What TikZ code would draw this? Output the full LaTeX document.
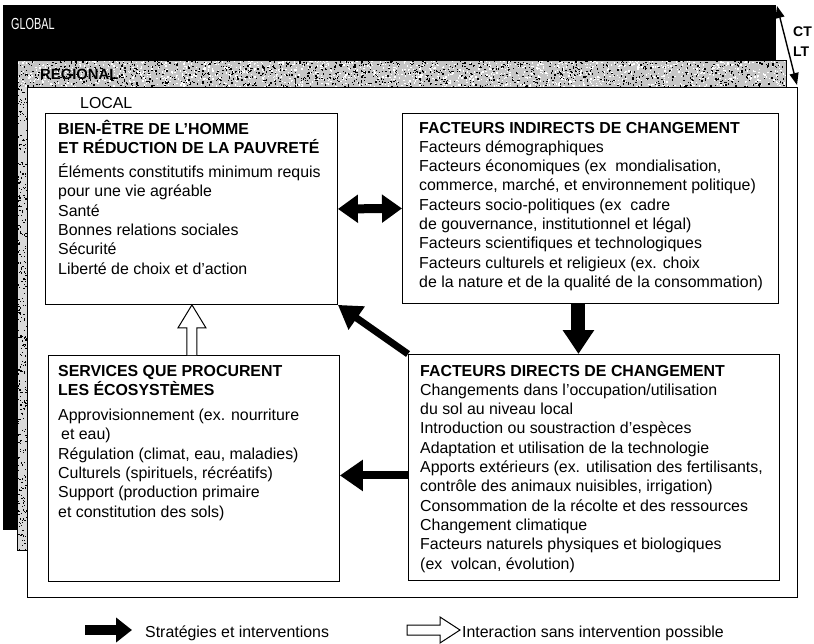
\documentclass[tikz,border=0pt]{standalone}
\usepackage{fontspec}
\setmainfont{Liberation Sans}
\usetikzlibrary{arrows.meta,calc}
\newcommand\bodyfs{\fontsize{15.9}{19.3}\selectfont}
\begin{document}
\begin{tikzpicture}[x=1pt,y=-1pt,
  box/.style={draw, line width=0.9pt, fill=white, inner sep=0pt, anchor=north west},
  txt/.style={anchor=base west, inner sep=0pt, font=\bodyfs},
  lbl/.style={anchor=base west, inner sep=0pt},
  openarrow/.style={draw, fill=white, line width=1pt, line join=miter}]
\useasboundingbox (0,0) rectangle (814,643);
% GLOBAL layer
\fill[black] (3,5) rectangle (776,530);
\node[lbl, text=white, font=\fontsize{16}{18}\selectfont] (glob) at (11,29) {\scalebox{0.68}[1]{GLOBAL}};
% REGIONAL layer
\fill[white] (17,60) rectangle (786,550);
\fill[gray!45] (17,60) rectangle (786,87);
\fill[gray!30] (17,87) rectangle (27,550);
\pgfmathsetseed{7}
\foreach \i in {1,...,1400}{
  \pgfmathsetmacro\xx{17+768*rnd}
  \pgfmathsetmacro\yy{60+26*rnd}
  \fill[black] (\xx,\yy) rectangle ++(1.3,1.3);
}
\foreach \i in {1,...,1400}{
  \pgfmathsetmacro\xx{17+768*rnd}
  \pgfmathsetmacro\yy{60+26*rnd}
  \fill[white] (\xx,\yy) rectangle ++(1.3,1.3);
}
\foreach \i in {1,...,350}{
  \pgfmathsetmacro\xx{17+9*rnd}
  \pgfmathsetmacro\yy{87+462*rnd}
  \fill[black] (\xx,\yy) rectangle ++(1.2,1.2);
}
\draw[line width=0.6pt] (17,60) rectangle (786,550);
\node[lbl, font=\bfseries\fontsize{14.8}{17}\selectfont] (reg) at (40,79) {REGIONAL};
% LOCAL layer
\draw[line width=0.9pt, fill=white] (27,87) rectangle (797,597);
\node[lbl, font=\bodyfs] (loc) at (80,108) {LOCAL};
% CT / LT
\coordinate (ctA) at (777,6);
\coordinate (ctB) at (797,85);
\draw[line width=1.4pt, {Triangle[width=9pt,length=12pt]}-{Triangle[width=9pt,length=12pt]}] (ctA) -- (ctB);
\node[lbl, font=\bfseries\fontsize{14}{16}\selectfont] (ct) at (793,36) {CT};
\node[lbl, font=\bfseries\fontsize{14}{16}\selectfont] (lt) at (793,56) {LT};
% boxes
\node[box, minimum width=292pt, minimum height=191pt] (b1) at (45,113) {};
\node[box, minimum width=376pt, minimum height=190pt] (b2) at (402,113) {};
\node[box, minimum width=291pt, minimum height=226pt] (b3) at (48,355) {};
\node[box, minimum width=371pt, minimum height=226pt] (b4) at (408,354) {};
% texts
\node[txt] (t1) at (58,134) {\parbox[t]{300pt}{\raggedright
\textbf{BIEN-ÊTRE DE L'HOMME}\\
\textbf{ET RÉDUCTION DE LA PAUVRETÉ}\\[5pt]
Éléments constitutifs minimum requis\\
pour une vie agréable\\
Santé\\
Bonnes relations sociales\\
Sécurité\\
Liberté de choix et d'action}};
\node[txt] (t2) at (419,133) {\parbox[t]{380pt}{\raggedright
\textbf{FACTEURS INDIRECTS DE CHANGEMENT}\\
Facteurs démographiques\\
Facteurs économiques (ex\ \ mondialisation,\\
commerce, marché, et environnement politique)\\
Facteurs socio-politiques (ex\ \ cadre\\
de gouvernance, institutionnel et légal)\\
Facteurs scientifiques et technologiques\\
Facteurs culturels et religieux (ex. choix\\
de la nature et de la qualité de la consommation)}};
\node[txt] (t3) at (58,376) {\parbox[t]{300pt}{\raggedright
\textbf{SERVICES QUE PROCURENT}\\
\textbf{LES ÉCOSYSTÈMES}\\[6pt]
Approvisionnement (ex. nourriture\\
\hspace*{3pt}et eau)\\
Régulation (climat, eau, maladies)\\
Culturels (spirituels, récréatifs)\\
Support (production primaire\\
et constitution des sols)}};
\node[txt] (t4) at (420,376) {\parbox[t]{380pt}{\raggedright
\textbf{FACTEURS DIRECTS DE CHANGEMENT}\\
Changements dans l'occupation/utilisation\\
du sol au niveau local\\
Introduction ou soustraction d'espèces\\
Adaptation et utilisation de la technologie\\
Apports extérieurs (ex. utilisation des fertilisants,\\
contrôle des animaux nuisibles, irrigation)\\
Consommation de la récolte et des ressources\\
Changement climatique\\
Facteurs naturels physiques et biologiques\\
(ex\ \ volcan, évolution)}};
% connectors
\draw[line width=9pt, {Triangle[width=27pt,length=20pt]}-{Triangle[width=27pt,length=20pt]}] (b1.east) -- (b2.west);
\coordinate (dtop) at ($(b2.south)+(-12,0)$);
\draw[line width=14pt, -{Triangle[width=30pt,length=24pt]}] (dtop) -- (dtop |- b4.north);
\draw[line width=7pt, -{Triangle[width=27pt,length=23pt]}] (b4.north west) -- (b1.south east);
\coordinate (lft) at ($(b4.west)+(0,8)$);
\draw[line width=8pt, -{Triangle[width=30pt,length=23pt]}] (lft) -- (lft -| b3.east);
\coordinate (wb) at ($(b3.north)+(-2,0)$);
\coordinate (wt) at (wb |- b1.south);
\draw[openarrow] ($(wb)+(-5,0)$) -- ($(wt)+(-5,23)$) -- ($(wt)+(-14,23)$) -- (wt) -- ($(wt)+(14,23)$) -- ($(wt)+(5,23)$) -- ($(wb)+(5,0)$);
% legend
\coordinate (lg1a) at (85,630);
\coordinate (lg1b) at (132,630);
\draw[line width=10pt, -{Triangle[width=24pt,length=16pt]}] (lg1a) -- (lg1b);
\node[lbl, font=\bodyfs] (lg1t) at (145,637) {Stratégies et interventions};
\coordinate (lg2a) at (407,630);
\draw[openarrow] ($(lg2a)+(0,-5)$) -- ++(33,0) -- ++(0,-8) -- ($(lg2a)+(53,0)$) -- ($(lg2a)+(33,13)$) -- ++(0,-8) -- ($(lg2a)+(0,5)$) -- cycle;
\node[lbl, font=\bodyfs] (lg2t) at (462,637) {Interaction sans intervention possible};
\end{tikzpicture}
\end{document}
